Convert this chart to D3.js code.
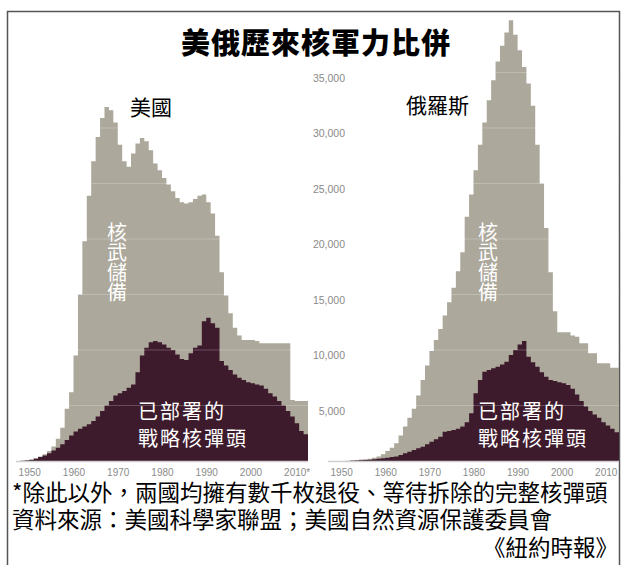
<!DOCTYPE html>
<html>
<head>
<meta charset="utf-8">
<script src="https://cdn.jsdelivr.net/npm/d3@7"></script>
<style>
  body { margin: 0; background: #fff; }
  svg { display: block; font-family: "Noto Sans CJK TC", "Noto Sans", sans-serif; }
</style>
</head>
<body>
<svg width="622" height="565"></svg>
<script>
// Years 1945 .. 2010, one step per year
const years = d3.range(1945, 2011);

// United States: total stockpile and deployed strategic warheads
const usStockpile = [
  0, 60, 100, 150, 250, 400, 600, 900, 1300, 2000,
  3000, 4700, 6200, 9500, 15000, 19800, 23900, 27000, 29200, 30900,
  31900, 31600, 30500, 28500, 27000, 26500, 27700, 28600, 29100, 28800,
  28000, 26800, 26200, 25500, 24900, 24300, 23700, 23300, 23200, 23300,
  23600, 23900, 24000, 23300, 22300, 20300, 17000, 14900, 13300, 12000,
  11300, 10900, 10900, 10900, 10800, 10600, 10600, 10600, 10600, 10600,
  10600, 10600, 5500, 5400, 5400, 5400
];
const usDeployed = [
  0, 0, 50, 100, 200, 350, 500, 700, 950, 1200,
  1500, 1900, 2300, 2650, 2900, 3100, 3300, 3600, 4000, 4500,
  5000, 5400, 5900, 6100, 6300, 6600, 6900, 8000, 9500, 10200,
  10700, 10800, 10700, 10500, 10200, 10000, 9600, 9200, 9100, 9700,
  10200, 10400, 12600, 12900, 12400, 12000, 9000, 8600, 8200, 7800,
  7500, 7300, 7100, 7000, 6900, 6800, 6500, 6100, 5800, 5400,
  5000, 4500, 4000, 3400, 2700, 2400
];

// Soviet Union / Russia
const ruStockpile = [
  0, 0, 0, 0, 30, 60, 100, 130, 160, 200,
  300, 400, 600, 900, 1200, 1600, 2300, 3100, 3900, 4700,
  5900, 7300, 8600, 9900, 10900, 11900, 13100, 14300, 15600, 17100,
  18800, 22000, 24000, 26200, 28500, 30500, 32500, 34300, 36000, 37400,
  38600, 39700, 38400, 37000, 35500, 34000, 32000, 28500, 25000, 21000,
  17000, 13500, 11600, 11600, 11600, 11300, 11200, 10600, 10600, 9700,
  9700, 8800, 8800, 8800, 8400, 8400
];
const ruDeployed = [
  0, 0, 0, 0, 0, 20, 40, 60, 80, 120,
  150, 200, 250, 300, 350, 400, 550, 700, 840, 1000,
  1150, 1290, 1500, 1740, 1950, 2190, 2640, 2700, 2800, 2900,
  3100, 3500, 4300, 6100, 7300, 8050, 8200, 8350, 8500, 8700,
  8950, 9550, 10000, 10500, 10800, 9400, 8900, 8500, 8000, 7600,
  7300, 7200, 7100, 7000, 6850, 6500, 6000, 5400, 4900, 4500,
  4200, 3900, 3500, 3200, 2900, 2600
];

const yTicks = [5000, 10000, 15000, 20000, 25000, 30000, 35000];
const xTicks = [1950, 1960, 1970, 1980, 1990, 2000, 2010];
const usXLabels = ["1950", "1960", "1970", "1980", "1990", "2000", "2010*"];
const ruXLabels = ["1950", "1960", "1970", "1980", "1990", "2000", "2010"];

const notes = [
  "*除此以外，兩國均擁有數千枚退役、等待拆除的完整核彈頭",
  "資料來源：美國科學家聯盟；美國自然資源保護委員會"
];

const greyColor = "#aca89b";
const darkColor = "#3e1a2d";

const svg = d3.select("svg");

// frame
svg.append("path")
  .attr("d", "M7.5,570 V11.5 H619.5 V570")
  .attr("fill", "none")
  .attr("stroke", "#555")
  .attr("stroke-width", 1.5);

const y = d3.scaleLinear().domain([0, 35000]).range([461, 72.5]);

function drawPanel(range, stock, deployed, labels) {
  const x = d3.scaleLinear().domain([1945, 2011]).range(range);
  const g = svg.append("g");

  // add a closing point so the last year gets its full step
  const toPts = vals => years.map((yr, i) => ({ yr, v: vals[i] }))
    .concat([{ yr: 2011, v: vals[vals.length - 1] }]);

  const area = d3.area()
    .curve(d3.curveStepAfter)
    .x(d => x(d.yr))
    .y0(y(0))
    .y1(d => y(d.v));

  g.append("path").datum(toPts(stock)).attr("fill", greyColor).attr("d", area);
  g.append("path").datum(toPts(deployed)).attr("fill", darkColor).attr("d", area);

  // faint gridlines through the areas
  g.selectAll(".grid")
    .data(yTicks)
    .enter()
    .append("line")
    .attr("x1", range[0]).attr("x2", range[1])
    .attr("y1", d => y(d)).attr("y2", d => y(d))
    .attr("stroke", "#fff")
    .attr("stroke-opacity", 0.22)
    .attr("stroke-width", 1);

  // baseline
  g.append("line")
    .attr("x1", range[0]).attr("x2", range[1])
    .attr("y1", y(0) + 0.5).attr("y2", y(0) + 0.5)
    .attr("stroke", "#cfcfcf")
    .attr("stroke-width", 1.5);

  // x axis
  const ax = g.append("g")
    .attr("transform", `translate(0,${y(0)})`)
    .call(d3.axisBottom(x).tickValues(xTicks).tickSize(0)
      .tickFormat((d, i) => labels[i]));
  ax.select(".domain").remove();
  ax.selectAll("text")
    .attr("text-anchor", "start")
    .attr("dx", -20)
    .attr("y", 8)
    .attr("fill", "#8a8a8a")
    .style("font-family", "'Liberation Sans', Arial, sans-serif")
    .style("font-size", "10px");
  return x;
}

drawPanel([16, 308], usStockpile, usDeployed, usXLabels);
drawPanel([328, 619], ruStockpile, ruDeployed, ruXLabels);

// y axis labels sit between the two panels
const yAxis = svg.append("g")
  .attr("transform", "translate(345,0)")
  .call(d3.axisLeft(y).tickValues(yTicks).tickSize(0).tickFormat(d3.format(",")));
yAxis.select(".domain").remove();
yAxis.selectAll("text")
  .attr("x", 0)
  .attr("dy", "0.85em")
  .attr("fill", "#8a8a8a")
  .style("font-family", "'Liberation Sans', Arial, sans-serif")
  .style("font-size", "10.5px");

// title
svg.append("text")
  .attr("x", 316)
  .attr("y", 54)
  .attr("text-anchor", "middle")
  .style("font-size", "29px")
  .style("font-weight", "900")
  .style("letter-spacing", "1px")
  .text("美俄歷來核軍力比併");

// country names
svg.append("text").attr("x", 130).attr("y", 115)
  .style("font-size", "21px").text("美國");
svg.append("text").attr("x", 406).attr("y", 113)
  .style("font-size", "21px").text("俄羅斯");

// vertical labels inside the stockpile areas
[117, 488].forEach(cx => {
  svg.append("text")
    .attr("x", cx)
    .attr("y", 222)
    .attr("fill", "#fff")
    .style("writing-mode", "vertical-rl")
    .style("text-orientation", "upright")
    .style("font-size", "20px")
    .style("letter-spacing", "0.3px")
    .text("核武儲備");
});

// deployed labels, two lines each
[138, 478].forEach(lx => {
  const t = svg.append("text")
    .attr("fill", "#fff")
    .style("font-size", "20px")
    .style("letter-spacing", "2px");
  t.append("tspan").attr("x", lx).attr("y", 419).text("已部署的");
  t.append("tspan").attr("x", lx).attr("y", 446).text("戰略核彈頭");
});

// footnotes
const foot = svg.append("text").style("font-size", "22.5px");
notes.forEach((d, i) => {
  foot.append("tspan").attr("x", 12).attr("y", 501 + i * 27).text(d);
});
foot.append("tspan")
  .attr("x", 618)
  .attr("y", 556)
  .attr("text-anchor", "end")
  .text("《紐約時報》");
</script>
</body>
</html>
